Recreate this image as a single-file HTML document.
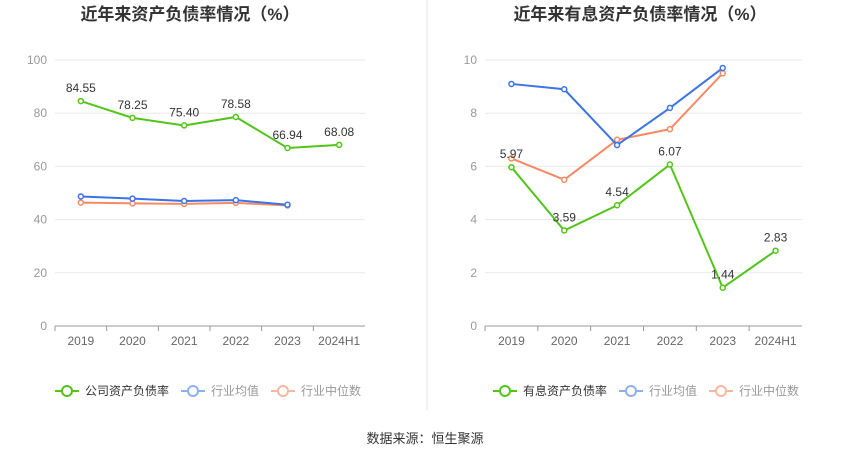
<!DOCTYPE html>
<html><head><meta charset="utf-8"><style>
body{margin:0;background:#fff;width:850px;height:459px;overflow:hidden}
svg text{font-family:"Liberation Sans","Noto Sans CJK SC",sans-serif}
</style></head><body>
<svg id="s" width="850" height="459">
<line x1="427" y1="0" x2="427" y2="410" stroke="#e6e6e6"/>
<text x="425" y="443" font-size="13" fill="#333" text-anchor="middle">数据来源：恒生聚源</text>
</svg>
<script>
const categories=["2019","2020","2021","2022","2023","2024H1"];
const leftMain=[84.55,78.25,75.40,78.58,66.94,68.08];
const leftAvg=[48.7,47.9,47.0,47.3,45.6];
const leftMed=[46.4,46.1,45.9,46.3,45.3];
const leftTicks=[0,20,40,60,80,100];
const rightMain=[5.97,3.59,4.54,6.07,1.44,2.83];
const rightAvg=[9.1,8.9,6.8,8.2,9.7];
const rightMed=[6.3,5.5,7.0,7.4,9.5];
const rightTicks=[0,2,4,6,8,10];
const NS="http://www.w3.org/2000/svg",svg=document.getElementById('s');
function mk(t,a,p){const e=document.createElementNS(NS,t);for(const k in a)e.setAttribute(k,a[k]);(p||svg).appendChild(e);return e;}
function chart(o){
 const g=mk('g',{});
 
 
 const x0=o.x0,x1=o.x1,y0=326,y1=60,max=o.ticks[o.ticks.length-1];
 const step=(x1-x0)/categories.length;
 const X=i=>x0+step*(i+0.5),Y=v=>y0-(v/max)*(y0-y1);
 const t=mk('text',{x:o.tx,y:20,'font-size':17,'font-weight':'bold',fill:'#333','text-anchor':'middle'},g);t.textContent=o.title;
 
 o.ticks.forEach(v=>{
  const l=mk('line',{x1:x0,x2:x1,y1:Y(v),y2:Y(v),stroke:v==0?'#999':'#e8e8e8'},g);
  
  const tx=mk('text',{x:x0-8,y:Y(v)+4,'font-size':12,fill:'#999','text-anchor':'end'},g);tx.textContent=v;
  
 });
 categories.forEach((c,i)=>{
  const tk=mk('line',{x1:x0+step*i,x2:x0+step*i,y1:y0,y2:y0+5,stroke:'#999'},g);
  
  const tx=mk('text',{x:X(i),y:y0+19,'font-size':12,fill:'#666','text-anchor':'middle'},g);tx.textContent=c;
  
 });
 const series=[[o.med,'#f58a65','median-line'],[o.avg,'#3a74e6','average-line'],[o.main,'#52c41a','company-line']];
 series.forEach(([d,col,nm])=>{
  const p=mk('polyline',{points:d.map((v,i)=>X(i)+','+Y(v)).join(' '),fill:'none',stroke:col,'stroke-width':2},g);
  
  d.forEach((v,i)=>{const c=mk('circle',{cx:X(i),cy:Y(v),r:2.5,fill:'#fff',stroke:col,'stroke-width':1.5},g);
   });
 });
 o.main.forEach((v,i)=>{const tx=mk('text',{x:X(i),y:Y(v)-9,'font-size':12,fill:'#333','text-anchor':'middle'},g);tx.textContent=v.toFixed(2);
  });
 const leg=[[o.lname,'#52c41a','#333'],['行业均值','#8fb0f0','#999'],['行业中位数','#f8b7a0','#999']];
 let lx=o.lx;
 leg.forEach(([n,col,tc])=>{
  const e=mk('g',{},g);
  mk('line',{x1:lx,x2:lx+24,y1:391,y2:391,stroke:col,'stroke-width':2},e);
  mk('circle',{cx:lx+12,cy:391,r:5,fill:'#fff',stroke:col,'stroke-width':2},e);
  const tx=mk('text',{x:lx+30,y:395,'font-size':12,fill:tc},e);tx.textContent=n;
  lx+=30+n.length*12+12;
 });
}
chart({name:'debt-ratio-chart',x0:55,x1:365,tx:190,title:'近年来资产负债率情况（%）',main:leftMain,avg:leftAvg,med:leftMed,ticks:leftTicks,lname:'公司资产负债率',lx:55});
chart({name:'interest-debt-ratio-chart',x0:485,x1:802,tx:640,title:'近年来有息资产负债率情况（%）',main:rightMain,avg:rightAvg,med:rightMed,ticks:rightTicks,lname:'有息资产负债率',lx:493});
</script>
</body></html>
